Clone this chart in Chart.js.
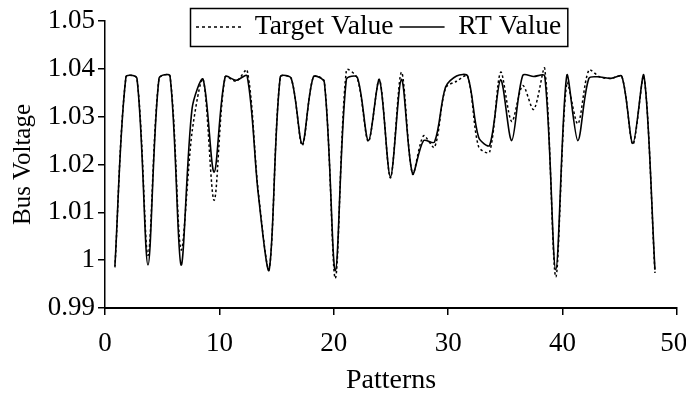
<!DOCTYPE html>
<html>
<head>
<meta charset="utf-8">
<script src="https://cdn.jsdelivr.net/npm/chart.js@4.4.1/dist/chart.umd.min.js"></script>
<style>
  html, body { margin: 0; padding: 0; background: #ffffff; }
  #wrap { width: 686px; height: 397px; }
</style>
</head>
<body>
<div id="wrap"><canvas id="c" width="686" height="397"></canvas></div>
<script>
// ---- data ----
const patterns = [1,2,3,4,5,6,7,8,9,10,11,12,13,14,15,16,17,18,19,20,21,22,23,24,25,26,27,28,29,30,31,32,33,34,35,36,37,38,39,40,41,42,43,44,45,46,47,48,49,50];
const targetValues = [0.9985, 1.0383, 1.038, 1.001, 1.038, 1.0385, 1.0022, 1.0268, 1.0378, 1.0125,
                      1.0383, 1.0374, 1.0397, 1.0145, 0.9982, 1.0383, 1.038, 1.024, 1.0383, 1.0374,
                      0.9962, 1.0397, 1.038, 1.0248, 1.0378, 1.0172, 1.0393, 1.018, 1.026, 1.0236,
                      1.036, 1.0374, 1.0385, 1.0237, 1.0226, 1.0393, 1.029, 1.0365, 1.0315, 1.040,
                      0.9965, 1.037, 1.0285, 1.0397, 1.0383, 1.038, 1.0384, 1.0242, 1.0384, 0.9973];
const rtValues = [0.9988, 1.0383, 1.038, 0.999, 1.038, 1.0385, 0.999, 1.0317, 1.0378, 1.0184,
                  1.0383, 1.0376, 1.0385, 1.014, 0.998, 1.0383, 1.038, 1.0243, 1.0383, 1.0372,
                  0.9978, 1.0378, 1.0382, 1.025, 1.0377, 1.0174, 1.0378, 1.0181, 1.025, 1.0247,
                  1.0362, 1.0385, 1.0385, 1.0257, 1.024, 1.0377, 1.025, 1.0386, 1.0384, 1.0385,
                  0.998, 1.0386, 1.025, 1.038, 1.0383, 1.038, 1.0384, 1.0244, 1.0386, 0.998];
const seriesNames = ['Target Value', 'RT Value'];
const yTickLabels = ['0.99', '1', '1.01', '1.02', '1.03', '1.04', '1.05'];
const xTickLabels = ['0', '10', '20', '30', '40', '50'];
const xTitle = 'Patterns';
const yTitle = 'Bus Voltage';

// ---- chart ----
const FONT = "'Liberation Serif', 'Times New Roman', serif";
Chart.defaults.font.family = FONT;
Chart.defaults.color = '#000';

const toPoints = (vals) => patterns.map((p, i) => ({ x: p, y: vals[i] }));

const legendBox = {
  id: 'legendBox',
  afterLayout(chart) {
    const lg = chart.legend;
    if (!lg || !lg.lineWidths) return;
    const pad = lg.options.labels.padding;
    const w = lg.lineWidths[0] + pad;
    const h = 38;
    lg.left = 190;
    lg.right = 190 + w + 6;
    lg.top = 8 + (h - 2 * pad - lg.options.labels.font.size) / 2;
    lg.bottom = 8 + h + 2;
    lg._boxTop = 8;
    lg._boxW = w;
    lg._boxH = h;
  },
  afterDraw(chart) {
    const lg = chart.legend;
    if (!lg || !lg._boxW) return;
    const ctx = chart.ctx;
    ctx.save();
    ctx.strokeStyle = '#000';
    ctx.lineWidth = 1.5;
    ctx.setLineDash([]);
    ctx.strokeRect(lg.left + 0.5, lg._boxTop + 0.5, lg._boxW, lg._boxH);
    ctx.restore();
  }
};

new Chart(document.getElementById('c'), {
  type: 'line',
  data: {
    datasets: [
      {
        label: seriesNames[0],
        data: toPoints(targetValues),
        xAxisID: 'xd',
        borderColor: '#000',
        borderWidth: 1.5,
        borderDash: [2.5, 2.5],
        pointRadius: 0,
        tension: 0.3,
        fill: false
      },
      {
        label: seriesNames[1],
        data: toPoints(rtValues),
        xAxisID: 'xd',
        borderColor: '#000',
        borderWidth: 1.6,
        pointRadius: 0,
        tension: 0.3,
        fill: false
      }
    ]
  },
  options: {
    responsive: false,
    animation: false,
    devicePixelRatio: 1,
    layout: { padding: { top: 21, right: 9, bottom: 0, left: 0 } },
    plugins: {
      tooltip: { enabled: false },
      legend: {
        display: true,
        position: 'top',
        align: 'start',
        maxHeight: 0.001,
        labels: {
          usePointStyle: true,
          pointStyle: 'line',
          pointStyleWidth: 45,
          padding: 6,
          color: '#000',
          font: { family: FONT, size: 27.5 },
          generateLabels(chart) {
            const items = Chart.defaults.plugins.legend.labels.generateLabels(chart);
            items.forEach((it) => {
              const ds = chart.data.datasets[it.datasetIndex];
              it.lineDash = ds.borderDash ? [3, 3] : [];
              it.lineWidth = ds.borderWidth;
              it.strokeStyle = ds.borderColor;
              it.pointStyle = 'line';
            });
            return items;
          }
        }
      }
    },
    scales: {
      x: {
        type: 'linear',
        position: 'bottom',
        min: 0,
        max: 50,
        afterFit(s) { s.height = 89; s.paddingLeft = 0; s.paddingRight = 0; },
        ticks: {
          stepSize: 10,
          padding: 13,
          maxRotation: 0,
          color: '#000',
          font: { family: FONT, size: 27 },
          callback: (v, i, all) => {
            const l = xTickLabels.find(t => Math.abs(Number(t) - v) < 1e-6);
            if (l === undefined) return '';
            return i === all.length - 1 ? l + ' ' : l;
          }
        },
        grid: { drawOnChartArea: false, drawTicks: true, tickLength: 7, color: '#000', lineWidth: 1.5 },
        border: { display: true, color: '#000', width: 2 },
        title: { display: true, text: xTitle, color: '#000', font: { family: FONT, size: 28 }, padding: { top: 0, bottom: 0 } }
      },
      xd: {
        type: 'linear',
        axis: 'x',
        position: 'bottom',
        display: false,
        min: 0.1,
        max: 52
      },
      y: {
        type: 'linear',
        min: 0.99,
        max: 1.05,
        afterFit(s) { s.width = 105; },
        ticks: {
          stepSize: 0.01,
          padding: 3,
          color: '#000',
          font: { family: FONT, size: 27 },
          callback: (v) => {
            const l = yTickLabels.find(t => Math.abs(Number(t) - v) < 1e-6);
            return l === undefined ? '' : l;
          }
        },
        grid: { drawOnChartArea: false, drawTicks: true, tickLength: 7, color: '#000', lineWidth: 1.5 },
        border: { display: true, color: '#000', width: 1.5 },
        title: { display: true, text: yTitle, color: '#000', font: { family: FONT, size: 25 }, padding: { top: 8, bottom: 0 } }
      }
    }
  },
  plugins: [legendBox]
});
</script>
</body>
</html>
